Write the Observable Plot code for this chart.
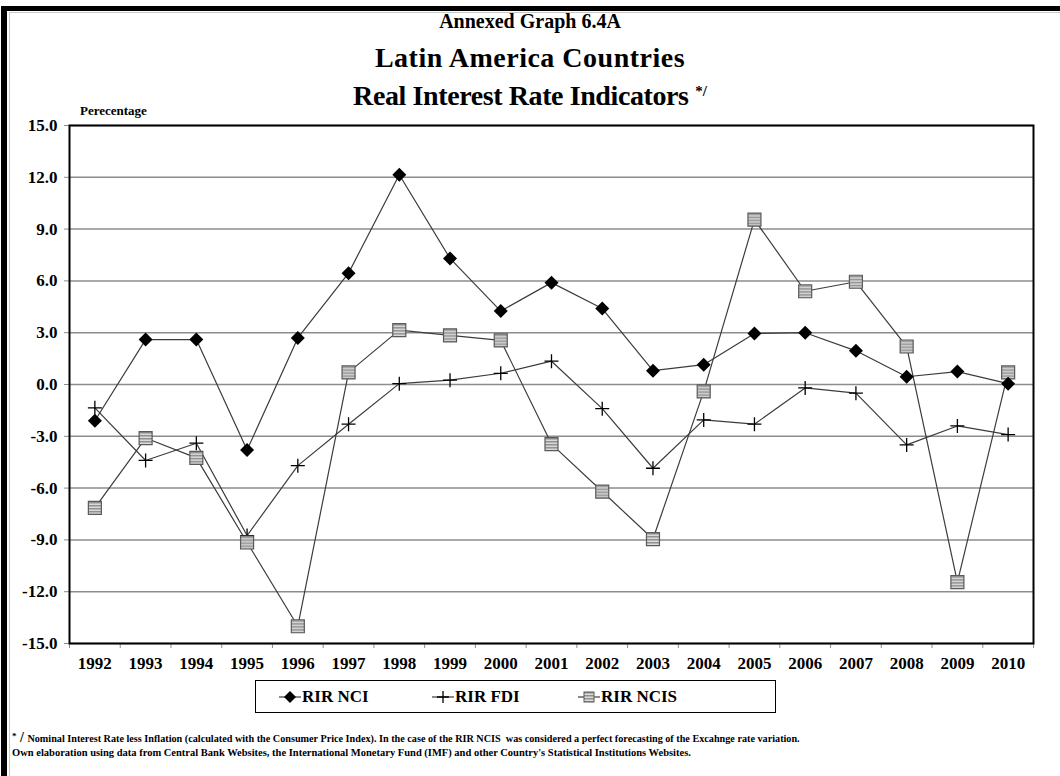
<!DOCTYPE html>
<html>
<head>
<meta charset="utf-8">
<script src="https://cdn.jsdelivr.net/npm/d3@7"></script>
<script src="https://cdn.jsdelivr.net/npm/@observablehq/plot@0.6"></script>
<style>
  body { margin: 0; background: #fff; }
  #page {
    position: relative; width: 1060px; height: 776px; overflow: hidden;
    font-family: "Liberation Serif", "Times New Roman", serif; font-weight: bold; color: #000;
  }
  .outer { position: absolute; left: 1px; top: 6px; width: 1200px; height: 900px;
    border-left: 6px solid #000; border-top: 5px solid #000; }
  .inner { position: absolute; left: 9px; top: 12px; width: 1200px; height: 900px;
    border-left: 1px solid #c8c8c8; border-top: 1px solid #c8c8c8; }
  .t { position: absolute; left: 0; width: 1060px; text-align: center; white-space: nowrap; line-height: 1; }
  #chart { position: absolute; left: 0; top: 0; }
  .ylabel { position: absolute; left: 80px; top: 104px; font-size: 13px; line-height: 1; }
  .legend { position: absolute; left: 255px; top: 680px; width: 519px; height: 31px;
    border: 1px solid #000; background: #fff; }
  .item { position: absolute; top: 0; height: 31px; display: flex; align-items: center; font-size: 17px; }
  .item svg { margin-right: 1px; }
  .note { position: absolute; left: 12px; font-size: 10.5px; line-height: 1; white-space: nowrap; }
</style>
</head>
<body>
<div id="page">
  <div class="outer"></div>
  <div class="inner"></div>
  <div id="chart"></div>
  <div class="t" style="top:11px;font-size:20px;">Annexed Graph 6.4A</div>
  <div class="t" style="top:44px;font-size:28px;letter-spacing:0.5px;">Latin America Countries</div>
  <div class="t" style="top:82px;font-size:28px;letter-spacing:-0.4px;">Real Interest Rate Indicators <span style="font-size:15px;vertical-align:9px;letter-spacing:0;">*/</span></div>
  <div class="ylabel">Perecentage</div>
  <div class="legend" id="legend"></div>
  <div class="note" style="top:731px;font-size:10.2px;"><span style="font-size:9px;vertical-align:3px;">*</span><span style="font-size:14px;"> / </span>Nominal Interest Rate less Inflation (calculated with the Consumer Price Index). In the case of the RIR NCIS&nbsp; was considered a perfect forecasting of the Excahnge rate variation.</div>
  <div class="note" style="top:748px;">Own elaboration using data from Central Bank Websites, the International Monetary Fund (IMF) and other Country's Statistical Institutions Websites.</div>
</div>
<script>
// Years on the horizontal axis
const years = [1992, 1993, 1994, 1995, 1996, 1997, 1998, 1999, 2000, 2001,
               2002, 2003, 2004, 2005, 2006, 2007, 2008, 2009, 2010];

// Real interest rate series (percent)
const rirNCI  = [-2.1, 2.6, 2.6, -3.8, 2.7, 6.45, 12.15, 7.3, 4.25, 5.9,
                 4.4, 0.8, 1.15, 2.95, 3.0, 1.95, 0.45, 0.75, 0.05];
const rirFDI  = [-1.35, -4.4, -3.4, -8.75, -4.7, -2.3, 0.05, 0.25, 0.65, 1.35,
                 -1.4, -4.85, -2.05, -2.3, -0.2, -0.5, -3.5, -2.4, -2.9];
const rirNCIS = [-7.15, -3.1, -4.25, -9.15, -14.0, 0.7, 3.15, 2.85, 2.55, -3.45,
                 -6.2, -8.95, -0.4, 9.55, 5.4, 5.95, 2.2, -11.45, 0.7];

const seriesNames = ["RIR NCI", "RIR FDI", "RIR NCIS"];
const yTicks = [-15, -12, -9, -6, -3, 0, 3, 6, 9, 12, 15];

const toRows = (name, values) => years.map((year, i) => ({year, value: values[i], series: name}));
const nci = toRows(seriesNames[0], rirNCI);
const fdi = toRows(seriesNames[1], rirFDI);
const ncis = toRows(seriesNames[2], rirNCIS);

// Tick marks sit between the year categories
const yearEdges = years.map(y => y - 0.5).concat([years[years.length - 1] + 0.5]);

// Marker shapes; the r option is the half-width in pixels
const half = s => Math.sqrt(s / Math.PI);
const diamond = {draw(c, s) { const h = half(s); c.moveTo(0, -h); c.lineTo(h, 0); c.lineTo(0, h); c.lineTo(-h, 0); c.closePath(); }};
const plus = {draw(c, s) { const h = half(s); c.moveTo(-h, 0); c.lineTo(h, 0); c.moveTo(0, -h); c.lineTo(0, h); }};
const square = {draw(c, s) { const h = half(s); c.rect(-h, -h, 2 * h, 2 * h); }};

// Striped fill used by the NCIS squares
const stripes = () => {
  const defs = d3.create("svg:defs");
  const p = defs.append("pattern").attr("id", "ncis-stripes")
    .attr("patternUnits", "userSpaceOnUse").attr("width", 4).attr("height", 3);
  p.append("rect").attr("width", 4).attr("height", 3).attr("fill", "#dcdcdc");
  p.append("rect").attr("width", 4).attr("height", 1.5).attr("fill", "#8e8e8e");
  return defs.node();
};

const lineStyle = {x: "year", y: "value", stroke: "#3c3c3c", strokeWidth: 1.2};

const chart = Plot.plot({
  width: 1060,
  height: 776,
  marginLeft: 69,
  marginRight: 27,
  marginTop: 125,
  marginBottom: 133,
  x: {type: "linear", domain: [1991.5, 2010.5]},
  y: {domain: [-15, 15]},
  style: {fontFamily: '"Liberation Serif", "Times New Roman", serif', fontWeight: "bold", background: "transparent", color: "#000"},
  marks: [
    stripes,
    Plot.ruleY(yTicks, {stroke: "#8c8c8c", strokeWidth: 1.5}),
    Plot.axisY({ticks: yTicks, tickFormat: d => d.toFixed(1), tickSize: 5, tickPadding: 7,
                fontSize: 17, label: null, stroke: "#8c8c8c"}),
    Plot.axisX({ticks: years, tickFormat: d => String(d), tickSize: 0, tickPadding: 13,
                fontSize: 17, label: null}),
    Plot.axisX({ticks: yearEdges, tickFormat: () => "", tickSize: 5, label: null, stroke: "#8c8c8c"}),
    Plot.frame({stroke: "#000", strokeWidth: 2}),
    Plot.line(nci, lineStyle),
    Plot.line(fdi, lineStyle),
    Plot.line(ncis, lineStyle),
    Plot.dot(fdi, {x: "year", y: "value", symbol: plus, r: 7, fill: "none", stroke: "#000", strokeWidth: 1.3}),
    Plot.dot(ncis, {x: "year", y: "value", symbol: square, r: 6.5, fill: "url(#ncis-stripes)", stroke: "#5a5a5a", strokeWidth: 1.2}),
    Plot.dot(nci, {x: "year", y: "value", symbol: diamond, r: 7, fill: "#000", stroke: "none"})
  ]
});
document.getElementById("chart").append(chart);

// Legend entries
const legend = d3.select("#legend");
const entries = [
  {name: seriesNames[0], left: 23, draw: g => g.append("path").attr("d", "M11,2 L17,8 L11,14 L5,8 Z").attr("fill", "#000")},
  {name: seriesNames[1], left: 176, draw: g => g.append("path").attr("d", "M11,2 V14 M5,8 H17").attr("stroke", "#000").attr("stroke-width", 1.3)},
  {name: seriesNames[2], left: 322, draw: g => g.append("rect").attr("x", 6).attr("y", 3).attr("width", 10).attr("height", 10)
      .attr("fill", "url(#ncis-stripes)").attr("stroke", "#5a5a5a")}
];
for (const e of entries) {
  const item = legend.append("div").attr("class", "item").style("left", e.left + "px");
  const svg = item.append("svg").attr("width", 22).attr("height", 16);
  svg.append("line").attr("x1", 0).attr("x2", 22).attr("y1", 8).attr("y2", 8).attr("stroke", "#3c3c3c").attr("stroke-width", 1.2);
  e.draw(svg.append("g"));
  item.append("span").text(e.name);
}
</script>
</body>
</html>
